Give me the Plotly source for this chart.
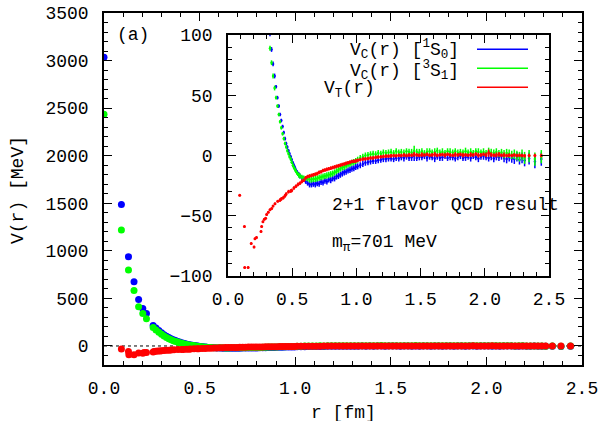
import plotly.graph_objects as go

# ---------------- data ----------------
# r grid shared by the two central potentials
r_c = [0.000, 0.091, 0.128, 0.157, 0.181, 0.203, 0.222, 0.257, 0.272, 0.287,
       0.301, 0.314, 0.327, 0.339, 0.351, 0.363, 0.374, 0.385, 0.395, 0.405,
       0.415, 0.425, 0.434, 0.444, 0.453, 0.462, 0.471, 0.479, 0.488, 0.496,
       0.505, 0.513, 0.521, 0.529, 0.537, 0.545, 0.552, 0.560, 0.575, 0.590,
       0.605, 0.620, 0.635, 0.650, 0.665, 0.680, 0.695, 0.710, 0.725, 0.740,
       0.755, 0.770, 0.785, 0.800, 0.815, 0.830, 0.845, 0.860, 0.875, 0.890,
       0.905, 0.920, 0.935, 0.950, 0.965, 0.980, 0.995, 1.010, 1.030, 1.050,
       1.070, 1.090, 1.110, 1.130, 1.150, 1.170, 1.190, 1.210, 1.230, 1.250,
       1.270, 1.290, 1.310, 1.330, 1.350, 1.370, 1.390, 1.410, 1.430, 1.450,
       1.470, 1.490, 1.510, 1.530, 1.550, 1.570, 1.590, 1.610, 1.630, 1.650,
       1.670, 1.690, 1.710, 1.730, 1.750, 1.770, 1.790, 1.810, 1.830, 1.850,
       1.870, 1.890, 1.910, 1.930, 1.950, 1.970, 1.990, 2.010, 2.030, 2.050,
       2.070, 2.090, 2.110, 2.130, 2.150, 2.170, 2.190, 2.210, 2.230, 2.250,
       2.270, 2.290, 2.310, 2.345, 2.390, 2.440]

# V_C(r) in 1S0 channel (blue), MeV
v_1s0 = [3035, 1487, 939, 675, 488, 394, 341, 214, 188, 162,
         139, 119, 101, 88, 76, 66, 57, 48, 41, 34,
         29, 24, 19, 14, 10, 7, 4, 1.5, -1, -3.5,
         -6, -8, -10, -12, -13.5, -15, -16, -17, -18.5, -20,
         -21.5, -23, -24, -24, -23.5, -24, -23, -23.5, -22, -22.5,
         -21, -21.5, -20, -20.5, -19, -19, -17.5, -17, -16, -15,
         -14, -13.5, -12.5, -12, -11, -10.5, -9.5, -9, -8, -7,
         -6, -5.5, -5, -4.5, -4.5, -4, -3.5, -3, -3, -2.5,
         -2.5, -3, -2, -2.5, -1.5, -2, -1, -2, -1.5, -0.5,
         -2, -1, -1.5, -0.5, -2, -1, -1.5, -2.5, -1, -2,
         -1.5, -0.5, -2, -1, -1.5, -2.5, -1, -0.5, -2, -1.5,
         -1, -2, -0.5, -1.5, -2.5, -1, -0.5, -1.5, -2, -1,
         -2.5, -1, -1.5, -0.5, -2, -3, -1.5, -2.5, -3, -1,
         -3.5, -2, -4, -2.5, -5, -3]

# V_C(r) in 3S1 channel (green), MeV
v_3s1 = [2437, 1220, 798, 583, 411, 341, 285, 193, 168, 144,
         123, 105, 89, 77, 66, 56, 48, 41, 34, 28,
         23, 18, 14, 10, 7, 4, 1.5, -1, -3, -5.5,
         -8, -10, -11.5, -13, -14.5, -15.5, -16.5, -17, -18, -18.5,
         -19, -19.5, -20, -20, -19.5, -19.5, -19, -18.5, -18, -17.5,
         -17, -16.5, -16, -15.5, -15, -14, -13, -12, -11, -10,
         -9.5, -8.5, -7.5, -7, -6, -5.5, -4.5, -3.5, -2, -1,
         0, 0.5, 1, 1.5, 1, 2, 1.5, 2.5, 2, 2.5,
         3, 2, 3.5, 2.5, 3, 2, 3.5, 3, 2.5, 4,
         3, 2.5, 3.5, 2, 3, 3.5, 2.5, 3, 4, 2.5,
         3, 2, 3.5, 3, 2.5, 3.5, 2, 3, 2.5, 3.5,
         2.5, 3, 2, 3.5, 3, 2.5, 3, 2, 3.5, 2.5,
         2, 3, 1.5, 2.5, 1, 2, 1.5, 0.5, 1, 0,
         -1, 0.5, -2, -0.5, -3, -1]

# statistical errors of the central potentials
err_c = [10, 10, 8, 6, 5, 5, 4, 3, 3, 3,
         2, 2, 2, 2, 2, 2, 1.5, 1.5, 1.5, 1.5,
         1.5, 1.5, 1.5, 1.5, 1.5, 1.5, 1.5, 1.5, 1.5, 1.5,
         1.5, 1.5, 1.5, 1.5, 1.5, 1.5, 2, 2, 2, 2,
         2, 2, 2.5, 2.5, 2.5, 2.5, 2.5, 2.5, 2.5, 2.5,
         2.5, 2.5, 2.5, 2.5, 2.5, 2.5, 2.5, 2.5, 2.5, 2.5,
         2.5, 2.5, 2.5, 2.5, 2.5, 2.5, 2.5, 2.5, 2.5, 2.5,
         2.5, 2.5, 2.5, 2.5, 2.5, 2.5, 2.5, 2.5, 2.5, 2.5,
         2.5, 2.5, 2.5, 2.5, 2.5, 3, 2.5, 2.5, 3, 4,
         2.5, 3, 2.5, 2.5, 3, 2.5, 2.5, 3, 2.5, 2.5,
         3, 2.5, 2.5, 3, 2.5, 2.5, 3, 2.5, 2.5, 3,
         2.5, 3, 2.5, 2.5, 3, 2.5, 3, 2.5, 3, 3,
         3, 3, 3, 3, 3.5, 3.5, 3.5, 3.5, 4, 4,
         4, 4.5, 5, 5, 5.5, 5.5]

# tensor potential (red)
r_t = [0.091, 0.128, 0.130, 0.157, 0.181, 0.203, 0.210, 0.222, 0.257, 0.262,
       0.272, 0.283, 0.293, 0.301, 0.314, 0.327, 0.340, 0.351, 0.366, 0.387,
       0.405, 0.415, 0.431, 0.444, 0.453, 0.471, 0.488, 0.496, 0.513, 0.529,
       0.545, 0.560, 0.575, 0.590, 0.605, 0.620, 0.635, 0.650, 0.665, 0.680,
       0.695, 0.710, 0.725, 0.740, 0.755, 0.770, 0.785, 0.800, 0.815, 0.830,
       0.845, 0.860, 0.875, 0.890, 0.905, 0.920, 0.935, 0.950, 0.965, 0.980,
       0.995, 1.010, 1.030, 1.050, 1.070, 1.090, 1.110, 1.130, 1.150, 1.170,
       1.190, 1.210, 1.230, 1.250, 1.270, 1.290, 1.310, 1.330, 1.350, 1.370,
       1.390, 1.410, 1.430, 1.450, 1.470, 1.490, 1.510, 1.530, 1.550, 1.570,
       1.590, 1.610, 1.630, 1.650, 1.670, 1.690, 1.710, 1.730, 1.750, 1.770,
       1.790, 1.810, 1.830, 1.850, 1.870, 1.890, 1.910, 1.930, 1.950, 1.970,
       1.990, 2.010, 2.030, 2.050, 2.070, 2.090, 2.110, 2.130, 2.150, 2.170,
       2.190, 2.210, 2.230, 2.250, 2.270, 2.290, 2.310, 2.345, 2.390, 2.440]

v_t = [-33, -59, -93, -93, -73, -76, -69, -68, -63, -59,
       -55, -53, -52, -49, -47, -45, -44, -42, -40, -38,
       -37, -36, -35, -33.5, -32, -30, -29.5, -29, -27, -25.5,
       -24, -23, -21.5, -20.5, -18.5, -17.5, -17, -16.5, -16, -15.5,
       -15, -14, -13.5, -12.5, -12, -11.5, -11, -10.5, -10, -9.5,
       -9, -8.5, -8, -7.5, -7, -6.5, -6, -5.5, -5, -4.8,
       -4.5, -4, -3.5, -3, -2.8, -2.5, -2, -2, -1.5, -1.2,
       -1, -0.8, -0.5, -0.5, -0.3, 0, -0.2, 0.2, 0, 0.5,
       0, 0.5, 0.3, 1, 0.5, 0.2, 0.8, 0.5, 1, 0.3,
       0.5, 1, 0.2, 0.6, 0.8, 0.3, 1, 0.5, 0.2, 0.8,
       0.5, 1, 0.3, 0.6, 0.2, 0.8, 0.5, 1.2, 0.3, 0.5,
       1, 0.5, 2, 0.8, 0.3, 0.5, 1, 0.2, 0.5, 0,
       0.3, 0, 0.5, 0, 0.2, 0, -0.2, 0, 0, 0]

err_t = [1, 1, 1, 1, 1, 1, 1, 1, 1, 1,
         1, 1, 1, 1, 1, 1, 1, 1, 1, 1,
         1.5, 1.5, 1.5, 1.5, 1.5, 1.5, 1.5, 1.5, 1.5, 1.5,
         1.5, 1.5, 1.5, 1.5, 1.5, 1.5, 1.5, 1.5, 1.5, 1.5,
         1.5, 1.5, 1.5, 1.5, 1.5, 1.5, 1.5, 1.5, 1.5, 1.5,
         1.5, 1.5, 1.5, 1.5, 1.5, 1.5, 1.5, 1.5, 1.5, 1.5,
         1.5, 1.5, 1.5, 1.5, 1.5, 1.5, 1.5, 1.5, 1.5, 1.5,
         1.5, 1.5, 1.5, 1.5, 1.5, 1.5, 1.5, 1.5, 1.5, 1.5,
         1.5, 1.5, 1.5, 2, 1.5, 1.5, 2, 1.5, 1.5, 1.5,
         1.5, 2, 1.5, 1.5, 1.5, 2, 1.5, 1.5, 1.5, 2,
         1.5, 1.5, 2, 1.5, 1.5, 2, 1.5, 1.5, 2, 1.5,
         1.5, 2, 3, 2, 1.5, 2, 2, 1.5, 2, 1.5,
         1.5, 1.5, 1.5, 1.5, 1.5, 1.5, 1.5, 1.5, 1.5, 1.5]

series = [
    ("V_C 1S0", r_c, v_1s0, err_c, "#0000ff", 2.5),
    ("V_C 3S1", r_c, v_3s1, err_c, "#00ff00", 2.5),
    ("V_T", r_t, v_t, err_t, "#ff0000", 3),
]

FONT = "Liberation Mono, Courier New, monospace"
W, H = 600, 421

fig = go.Figure()

# main panel
for name, xs, ys, es, col, _ in series:
    fig.add_trace(go.Scatter(x=xs, y=ys, mode="markers", name=name,
                             marker=dict(color=col, size=7, line=dict(width=0)),
                             xaxis="x", yaxis="y", showlegend=False))
# inset
for name, xs, ys, es, col, ms in series:
    fig.add_trace(go.Scatter(x=xs, y=ys, mode="markers", name=name,
                             marker=dict(color=col, size=ms, line=dict(width=0)),
                             error_y=dict(type="data", array=es, visible=True,
                                          color=col, thickness=1.5, width=0),
                             xaxis="x2", yaxis="y2", showlegend=False))


def px_x(p):
    return p / W


def px_y(p):
    return 1 - p / H


common = dict(showgrid=False, zeroline=False, showline=True, linecolor="black",
              linewidth=1.5, mirror="ticks", ticks="inside", tickcolor="black",
              tickwidth=1.2, ticklen=8, automargin=False,
              tickfont=dict(family=FONT, size=18, color="black"))
minor_style = dict(ticklen=4, ticks="inside", tickcolor="black", tickwidth=1)

fig.update_layout(
    template="none",
    width=W, height=H, margin=dict(l=0, r=0, t=0, b=0, pad=0), autosize=False,
    paper_bgcolor="white", plot_bgcolor="white",
    font=dict(family=FONT, size=18, color="black"),
    xaxis=dict(domain=[px_x(104), px_x(582)], range=[0, 2.5], dtick=0.5, tick0=0,
               tickformat=".1f", anchor="y", minor=dict(dtick=0.1, **minor_style),
               ticklabelstandoff=6, **common),
    yaxis=dict(domain=[px_y(365), px_y(13)], range=[-200, 3500], dtick=500, tick0=0,
               anchor="x", minor=dict(dtick=100, **minor_style),
               ticklabelstandoff=10, **common),
    xaxis2=dict(domain=[px_x(228), px_x(549)], range=[0, 2.5], dtick=0.5, tick0=0,
                tickformat=".1f", anchor="y2", minor=dict(dtick=0.1, **minor_style),
                ticklabelstandoff=6, **common),
    yaxis2=dict(domain=[px_y(276), px_y(35)], range=[-100, 100], dtick=50, tick0=0,
                anchor="x2", minor=dict(dtick=10, **minor_style),
                ticklabelstandoff=10, **common),
)

# zero reference lines (dotted)
fig.add_shape(type="line", xref="x domain", yref="y", x0=0, x1=1, y0=0, y1=0,
              line=dict(color="black", width=1, dash="dot"), layer="below")
fig.add_shape(type="line", xref="x2 domain", yref="y2", x0=0, x1=1, y0=0, y1=0,
              line=dict(color="black", width=1, dash="dot"), layer="below")

# legend samples inside the inset (text left, line right)
legend_rows = [
    ("V<sub>C</sub>(r) [<sup>1</sup>S<sub>0</sub>]", "#0000ff", 348, 50, 49.3),
    ("V<sub>C</sub>(r) [<sup>3</sup>S<sub>1</sub>]", "#00ff00", 348, 70, 68.3),
    ("V<sub>T</sub>(r)", "#ff0000", 322, 89, 87.3),
]
for txt, col, xl, yt, yl in legend_rows:
    fig.add_annotation(text=txt, xref="paper", yref="paper", x=px_x(xl), y=px_y(yt),
                       xanchor="left", yanchor="middle", showarrow=False,
                       font=dict(family=FONT, size=18, color="black"))
    fig.add_shape(type="line", xref="paper", yref="paper", x0=px_x(477), x1=px_x(528),
                  y0=px_y(yl), y1=px_y(yl), line=dict(color=col, width=1.5))

# texts
fig.add_annotation(text="(a)", xref="paper", yref="paper", x=px_x(115), y=px_y(35),
                   xanchor="left", yanchor="middle", showarrow=False,
                   font=dict(family=FONT, size=18, color="black"))
fig.add_annotation(text="2+1 flavor QCD result", xref="paper", yref="paper",
                   x=px_x(330), y=px_y(205), xanchor="left", yanchor="middle",
                   showarrow=False, font=dict(family=FONT, size=18, color="black"))
fig.add_annotation(text="m<sub>π</sub>=701 MeV", xref="paper", yref="paper",
                   x=px_x(330), y=px_y(243), xanchor="left", yanchor="middle",
                   showarrow=False, font=dict(family=FONT, size=18, color="black"))

# axis titles
fig.add_annotation(text="r [fm]", xref="paper", yref="paper", x=px_x(343), y=px_y(413),
                   xanchor="center", yanchor="middle", showarrow=False,
                   font=dict(family=FONT, size=18, color="black"))
fig.add_annotation(text="V(r) [MeV]", xref="paper", yref="paper", x=px_x(18), y=px_y(190),
                   xanchor="center", yanchor="middle", textangle=-90, showarrow=False,
                   font=dict(family=FONT, size=18, color="black"))

fig.write_html("out.html")
